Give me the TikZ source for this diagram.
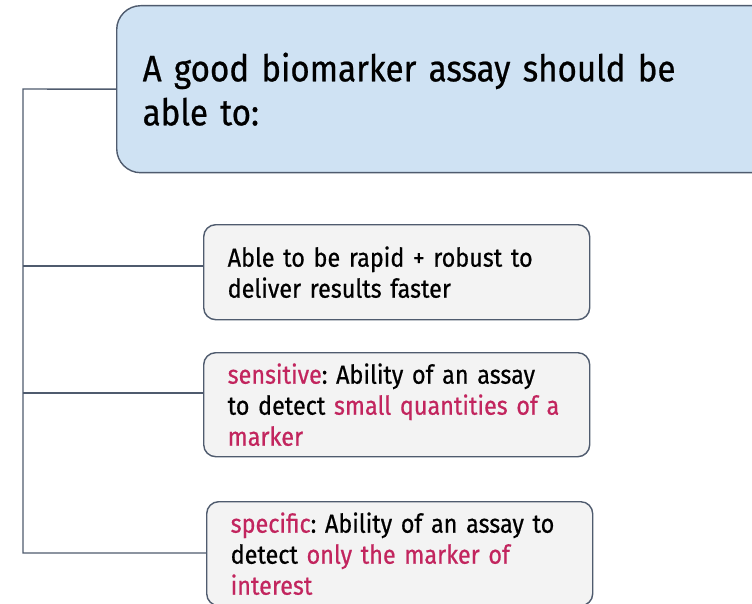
\documentclass[tikz,border=0pt]{standalone}
\usepackage{fontspec}
\setmainfont{Fira Sans}[FakeStretch=0.9,WordSpace=0.6,FakeBold=0.6]
\frenchspacing
\definecolor{edge}{HTML}{4F5B6E}
\definecolor{bluefill}{HTML}{CFE2F3}
\definecolor{greyfill}{HTML}{F3F3F3}
\definecolor{hl}{HTML}{C2255E}
\begin{document}
\begin{tikzpicture}[x=1pt,y=-1pt,
  conn/.style={draw=edge,line width=1.4pt},
  headbox/.style={draw=edge,line width=1.4pt,fill=bluefill,rounded corners=24pt,
    anchor=north west,align=left,inner xsep=26pt,inner ysep=0pt,
    font=\fontsize{36.8}{44}\selectfont},
  itembox/.style={draw=edge,line width=1.4pt,fill=greyfill,rounded corners=12pt,
    anchor=north west,align=left,inner xsep=24pt,inner ysep=0pt,
    minimum width=386pt,text width=338pt,
    font=\fontsize{26}{31}\selectfont}]
\clip (0,0) rectangle (752,604);
\fill[white] (0,0) rectangle (752,604);
\node[headbox,minimum width=660pt,text width=608pt,minimum height=167pt] (head) at (116,5)
  {A good biomarker assay should be\\able to:};
\node[itembox,minimum height=95pt] (b2) at (203,224)
  {Able to be rapid + robust to\\deliver results faster};
\node[itembox,minimum height=104pt] (b3) at (203,352)
  {\textcolor{hl}{sensitive}: Ability of an assay\\to detect \textcolor{hl}{small quantities of a}\\\textcolor{hl}{marker}};
\node[itembox,minimum height=104pt] (b4) at (206,501)
  {\textcolor{hl}{specific}: Ability of an assay to\\detect \textcolor{hl}{only the marker of}\\\textcolor{hl}{interest}};
\coordinate (top) at (23,89);
\coordinate (bot) at (23,553);
\coordinate (j2) at (23,266);
\coordinate (j3) at (23,393);
\draw[conn] (head.west) -- (top) -- (bot) -- (bot -| b4.west);
\draw[conn] (j2) -- (j2 -| b2.west);
\draw[conn] (j3) -- (j3 -| b3.west);
\end{tikzpicture}
\end{document}
